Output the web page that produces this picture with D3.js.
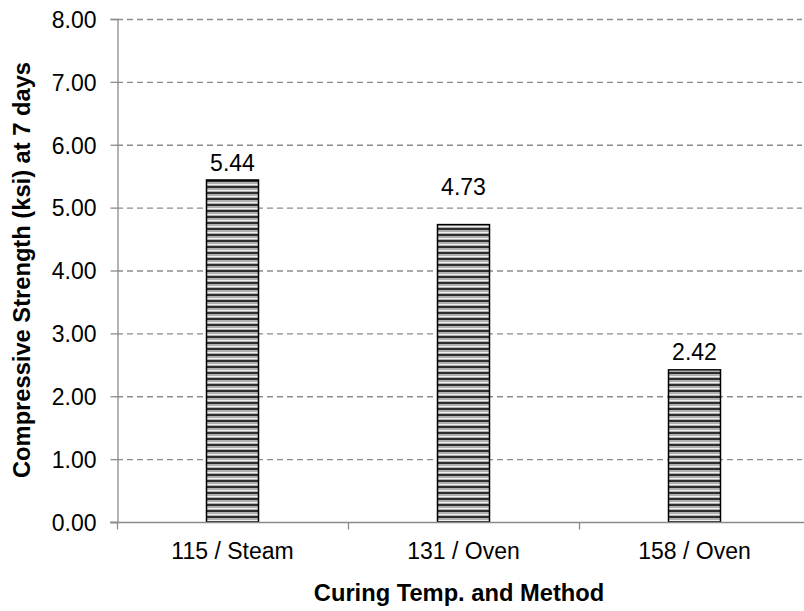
<!DOCTYPE html>
<html><head><meta charset="utf-8">
<script src="https://cdn.jsdelivr.net/npm/d3@7"></script>
<style>body{margin:0;background:#fff}svg{display:block}text{font-family:"Liberation Sans",Arial,sans-serif}</style>
</head><body>
<svg id="c" width="804" height="611"></svg>
<script>
const categories = ["115 / Steam", "131 / Oven", "158 / Oven"];
const values = [5.44, 4.73, 2.42];
const labelOffsets = [9, 30, 10];
const yTicks = [0,1,2,3,4,5,6,7,8];

const FS = 23;
const svg = d3.select("#c");
const m = {l:117, r:810, t:19, b:522};
const x = d3.scaleBand().domain(categories).range([m.l, m.r]).paddingInner(0).paddingOuter(0);
const y = d3.scaleLinear().domain([0,8]).range([m.b, m.t]);

const defs = svg.append("defs");
const pat = defs.append("pattern").attr("id","stripes").attr("patternUnits","userSpaceOnUse")
  .attr("width",8).attr("height",6);
pat.append("rect").attr("width",8).attr("height",6).attr("fill","#b0b0b0");
pat.append("rect").attr("y",0).attr("width",8).attr("height",2).attr("fill","#2e2e2e");
pat.append("rect").attr("y",4).attr("width",8).attr("height",1).attr("fill","#f0f0f0");

// gridlines
svg.append("g").selectAll("line").data(yTicks.filter(d=>d>0)).join("line")
  .attr("x1",m.l).attr("x2",802).attr("y1",d=>y(d)+0.5).attr("y2",d=>y(d)+0.5)
  .attr("stroke","#8c8c8c").attr("stroke-width",1.3).attr("stroke-dasharray","6,4");

// y axis
const ya = svg.append("g").attr("transform",`translate(${m.l+0.5},0)`)
  .call(d3.axisLeft(y).tickValues(yTicks).tickFormat(d3.format(".2f")).tickSize(7).tickPadding(14));
ya.select(".domain").attr("stroke","#8c8c8c").attr("stroke-width",1.3);
ya.selectAll(".tick line").attr("stroke","#8c8c8c").attr("stroke-width",1.3);
ya.selectAll("text").attr("font-size",FS).attr("fill","#000").attr("dy","0.36em");

// bars
const bw = 52;
svg.append("g").selectAll("rect").data(values).join("rect")
  .attr("x",(d,i)=>x(categories[i])+x.bandwidth()/2-bw/2)
  .attr("width",bw)
  .attr("y",d=>y(d))
  .attr("height",d=>y(0)-y(d))
  .attr("fill","url(#stripes)").attr("stroke","#000").attr("stroke-width",1.5);

// x axis
const xa = svg.append("g").attr("transform",`translate(0,${m.b+0.5})`);
xa.append("line").attr("x1",m.l-7).attr("x2",804).attr("stroke","#8c8c8c").attr("stroke-width",1.3);
xa.selectAll("line.t").data([...categories.map(c=>x(c)), m.r]).join("line").attr("class","t")
  .attr("x1",d=>d+0.5).attr("x2",d=>d+0.5).attr("y1",0).attr("y2",7)
  .attr("stroke","#8c8c8c").attr("stroke-width",1.3);
xa.selectAll("text").data(categories).join("text")
  .attr("x",d=>x(d)+x.bandwidth()/2).attr("y",36).attr("text-anchor","middle")
  .attr("font-size",FS).text(d=>d);

// value labels
svg.append("g").selectAll("text").data(values).join("text")
  .attr("x",(d,i)=>x(categories[i])+x.bandwidth()/2)
  .attr("y",(d,i)=>y(d)-labelOffsets[i]).attr("text-anchor","middle")
  .attr("font-size",FS).text(d=>d.toFixed(2));

// titles
svg.append("text").attr("x",459).attr("y",601).attr("text-anchor","middle")
  .attr("font-size",23.7).attr("font-weight","bold").text("Curing Temp. and Method");
svg.append("text").attr("transform",`translate(30,270) rotate(-90)`)
  .attr("text-anchor","middle").attr("font-size",23.7).attr("font-weight","bold")
  .text("Compressive Strength (ksi) at 7 days");
</script>
</body></html>
